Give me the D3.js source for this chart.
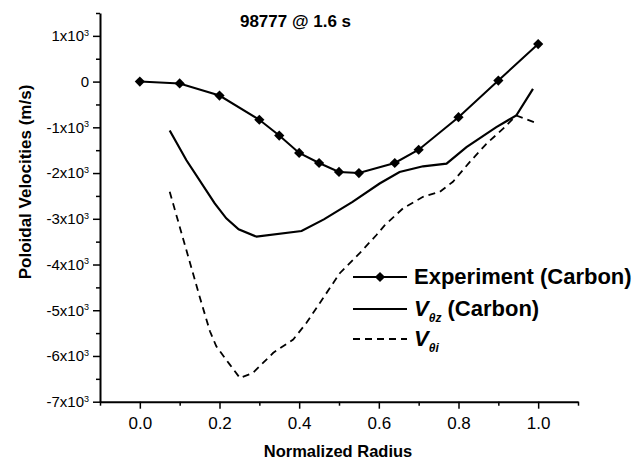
<!DOCTYPE html>
<html>
<head>
<meta charset="utf-8">
<script src="https://cdn.jsdelivr.net/npm/d3@7"></script>
<style>
  body { margin: 0; background: #fff; }
  svg { font-family: "Liberation Sans", Arial, sans-serif; }
</style>
</head>
<body>
<div id="chart"></div>
<script>
// ---- data ----
var title = "98777 @ 1.6 s";

var expX = [0, 0.1, 0.2, 0.3, 0.35, 0.4, 0.45, 0.5, 0.55, 0.64, 0.7, 0.8, 0.9, 1.0];
var expY = [0, -40, -305, -834, -1180, -1560, -1780, -1975, -2000, -1780, -1490, -778, 22, 821];

var vzX = [0.075, 0.117, 0.188, 0.217, 0.248, 0.293, 0.406, 0.462, 0.534, 0.602, 0.652, 0.711, 0.77, 0.82, 0.895, 0.945, 0.987];
var vzY = [-1070, -1721, -2664, -2991, -3231, -3392, -3268, -3013, -2630, -2229, -1976, -1852, -1793, -1431, -996, -741, -159];

var viX = [0.075, 0.117, 0.15, 0.176, 0.192, 0.226, 0.251, 0.284, 0.335, 0.385, 0.418, 0.452, 0.502, 0.552, 0.594, 0.615, 0.661, 0.711, 0.753, 0.786, 0.828, 0.87, 0.912, 0.945, 0.991];
var viY = [-2410, -3690, -4700, -5460, -5790, -6190, -6480, -6370, -5930, -5640, -5280, -4840, -4190, -3750, -3355, -3140, -2770, -2520, -2410, -2190, -1760, -1360, -1030, -740, -890];

var xTicks = [0.0, 0.2, 0.4, 0.6, 0.8, 1.0];
var xMinor = [-0.1, 0.1, 0.3, 0.5, 0.7, 0.9, 1.1];
var yTicks = [1000, 0, -1000, -2000, -3000, -4000, -5000, -6000, -7000];
var yMinor = [1500, 500, -500, -1500, -2500, -3500, -4500, -5500, -6500];

// ---- layout ----
var W = 641, H = 462;
var plotL = 100, plotR = 578, plotT = 13, plotB = 401.7;

var svg = d3.select("#chart").append("svg")
    .attr("width", W)
    .attr("height", H);

var x = d3.scaleLinear().domain([-0.1, 1.1]).range([plotL, plotR]);
var y = d3.scaleLinear().domain([-7000, 1500]).range([plotB, plotT]);

// minor ticks first
svg.append("g")
    .attr("transform", "translate(0," + plotB + ")")
    .call(d3.axisBottom(x).tickValues(xMinor).tickSize(4).tickFormat(""))
    .call(function(g){ g.select(".domain").remove(); })
    .selectAll("line").attr("stroke-width", 1.5);

svg.append("g")
    .attr("transform", "translate(" + plotL + ",0)")
    .call(d3.axisLeft(y).tickValues(yMinor).tickSize(4).tickFormat(""))
    .call(function(g){ g.select(".domain").remove(); })
    .selectAll("line").attr("stroke-width", 1.5);

// major axes
var xAxis = svg.append("g")
    .attr("transform", "translate(0," + plotB + ")")
    .call(d3.axisBottom(x).tickValues(xTicks).tickSize(7).tickSizeOuter(0).tickPadding(8)
        .tickFormat(d3.format(".1f")));
xAxis.select(".domain").attr("stroke-width", 2);
xAxis.selectAll("line").attr("stroke-width", 1.5);
xAxis.selectAll("text").attr("font-size", 17).attr("fill", "#000");

var yAxis = svg.append("g")
    .attr("transform", "translate(" + plotL + ",0)")
    .call(d3.axisLeft(y).tickValues(yTicks).tickSize(7).tickSizeOuter(0).tickPadding(4));
yAxis.select(".domain").attr("stroke-width", 2);
yAxis.selectAll("line").attr("stroke-width", 1.5);
yAxis.selectAll("text")
    .attr("font-size", 15)
    .attr("fill", "#000")
    .each(function(d){
        var t = d3.select(this).text("");
        if (d === 0) { t.text("0"); return; }
        t.append("tspan").text((d / 1000) + "x10");
        t.append("tspan").attr("font-size", 9).attr("dy", "-0.6em").text("3");
    });

// axis titles
svg.append("text")
    .attr("x", (259 + 417) / 2).attr("y", 457)
    .attr("text-anchor", "middle")
    .attr("font-size", 16.5).attr("font-weight", "bold")
    .text("Normalized Radius");

svg.append("text")
    .attr("transform", "translate(31,182) rotate(-90)")
    .attr("text-anchor", "middle")
    .attr("font-size", 17).attr("font-weight", "bold")
    .text("Poloidal Velocities (m/s)");

svg.append("text")
    .attr("x", 295.5).attr("y", 27)
    .attr("text-anchor", "middle")
    .attr("font-size", 17).attr("font-weight", "bold")
    .text(title);

// ---- lines ----
function pts(xs, ys){ return xs.map(function(d, i){ return [d, ys[i]]; }); }

var line = d3.line()
    .x(function(d){ return x(d[0]); })
    .y(function(d){ return y(d[1]); });

svg.append("path")
    .datum(pts(viX, viY))
    .attr("d", line)
    .attr("fill", "none").attr("stroke", "#000")
    .attr("stroke-width", 1.8).attr("stroke-dasharray", "7,5");

svg.append("path")
    .datum(pts(vzX, vzY))
    .attr("d", line)
    .attr("fill", "none").attr("stroke", "#000")
    .attr("stroke-width", 2.2);

svg.append("path")
    .datum(pts(expX, expY))
    .attr("d", line)
    .attr("fill", "none").attr("stroke", "#000")
    .attr("stroke-width", 2);

var diamond = d3.symbol().type(d3.symbolSquare).size(52);

svg.selectAll(".exp-pt")
    .data(pts(expX, expY))
    .enter().append("path")
    .attr("class", "exp-pt")
    .attr("d", diamond)
    .attr("transform", function(d){ return "translate(" + x(d[0]) + "," + y(d[1]) + ") rotate(45)"; })
    .attr("fill", "#000");

// ---- legend ----
var lg = svg.append("g");
var lx0 = 353, lx1 = 407, tx = 414;

lg.append("line").attr("x1", lx0).attr("x2", lx1).attr("y1", 277).attr("y2", 277)
    .attr("stroke", "#000").attr("stroke-width", 2);
lg.append("path").attr("d", diamond)
    .attr("transform", "translate(380,277) rotate(45)").attr("fill", "#000");
lg.append("text").attr("x", tx).attr("y", 284)
    .attr("font-size", 22).attr("font-weight", "bold")
    .text("Experiment (Carbon)");

lg.append("line").attr("x1", lx0).attr("x2", lx1).attr("y1", 309).attr("y2", 309)
    .attr("stroke", "#000").attr("stroke-width", 2);
var t2 = lg.append("text").attr("x", tx).attr("y", 316)
    .attr("font-size", 22).attr("font-weight", "bold");
t2.append("tspan").attr("font-style", "italic").text("V");
t2.append("tspan").attr("font-style", "italic").attr("font-size", 12).attr("dy", 6).text("θz");
t2.append("tspan").attr("dy", -6).text(" (Carbon)");

lg.append("line").attr("x1", lx0).attr("x2", lx1).attr("y1", 339).attr("y2", 339)
    .attr("stroke", "#000").attr("stroke-width", 1.8).attr("stroke-dasharray", "7,5");
var t3 = lg.append("text").attr("x", tx).attr("y", 346)
    .attr("font-size", 22).attr("font-weight", "bold");
t3.append("tspan").attr("font-style", "italic").text("V");
t3.append("tspan").attr("font-style", "italic").attr("font-size", 12).attr("dy", 6).text("θi");
</script>
</body>
</html>
